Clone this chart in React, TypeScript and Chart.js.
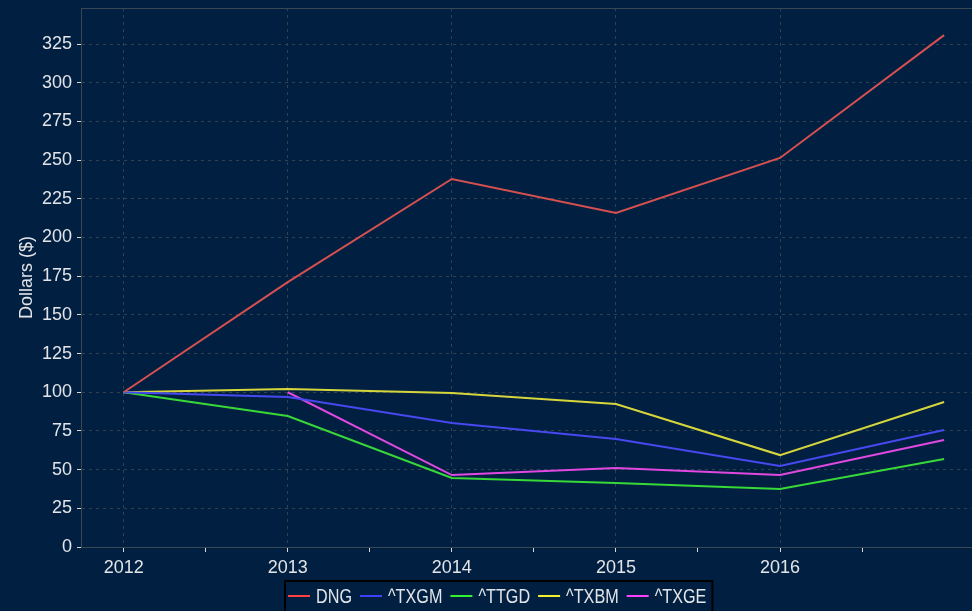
import React, { useEffect, useRef } from "react";
import { Chart, registerables } from "chart.js";

Chart.register(...registerables);

const years = [2012, 2013, 2014, 2015, 2016, 2017];
const dng = [100, 171.2, 237.8, 215.8, 251.4, 330.8];
const txgm = [100, 96.9, 80.1, 69.8, 52.3, 75.6];
const ttgd = [100, 84.6, 44.6, 41.4, 37.5, 56.9];
const txbm = [100, 102.1, 99.5, 92.4, 59.4, 93.7];
const txge = [null, 100, 46.5, 51.0, 46.5, 69.1];

const seriesNames = ["DNG", "^TXGM", "^TTGD", "^TXBM", "^TXGE"];
const seriesValues = [dng, txgm, ttgd, txbm, txge];
const seriesColors = ["#d65050", "#4848f0", "#38d838", "#d6d63c", "#e048e0"];
const legendColors = ["#ff4040", "#4040ff", "#30f030", "#f0f030", "#ff40ff"];

const yTickValues = [0, 25, 50, 75, 100, 125, 150, 175, 200, 225, 250, 275, 300, 325];
const xTickValues = [2012, 2012.5, 2013, 2013.5, 2014, 2014.5, 2015, 2015.5, 2016, 2016.5];

const BG = "#012041";
const FONT = "'Liberation Sans', Arial, sans-serif";
const GRID = "#33414f";
const TEXT = "#e2e4e8";

export default function App() {
  const ref = useRef<HTMLCanvasElement>(null);

  useEffect(() => {
    if (!ref.current) return;
    const bgPlugin = {
      id: "bg",
      beforeDraw(chart: any) {
        const c = chart.ctx;
        c.save();
        c.fillStyle = BG;
        c.fillRect(0, 0, chart.width, chart.height);
        c.restore();
      },
      afterDraw(chart: any) {
        const c = chart.ctx;
        const a = chart.chartArea;
        c.save();
        c.strokeStyle = "#3a4856";
        c.lineWidth = 1;
        c.strokeRect(a.left + 0.5, a.top + 0.5, a.right - a.left, a.bottom - a.top);
        // legend
        const sx = 0.81;
        c.font = "20px " + FONT;
        const widths = seriesNames.map((n) => c.measureText(n).width * sx);
        const lineW = 22, gap1 = 6, gap2 = 8, padL = 3, padR = 6;
        const total = widths.reduce((s, w) => s + lineW + gap1 + w, 0) + gap2 * (seriesNames.length - 1) + padL + padR;
        const cx = 499;
        const left = Math.round(cx - total / 2);
        const top = 581;
        c.fillStyle = BG;
        c.fillRect(left, top, total, 40);
        c.strokeStyle = "#000000";
        c.lineWidth = 2;
        c.strokeRect(left, top, total, 40);
        let x = left + padL;
        c.textBaseline = "alphabetic";
        c.textAlign = "left";
        seriesNames.forEach((n, i) => {
          c.strokeStyle = legendColors[i];
          c.lineWidth = 2;
          c.beginPath();
          c.moveTo(x, 596);
          c.lineTo(x + lineW, 596);
          c.stroke();
          x += lineW + gap1;
          c.save();
          c.translate(x, 603);
          c.scale(sx, 1);
          c.fillStyle = TEXT;
          c.fillText(n, 0, 0);
          c.restore();
          x += widths[i] + gap2;
        });
        c.restore();
      },
    };

    const chart = new Chart(ref.current, {
      type: "line",
      data: {
        datasets: seriesNames.map((name, i) => ({
          label: name,
          data: years.map((yr, j) => ({ x: yr, y: seriesValues[i][j] })),
          borderColor: seriesColors[i],
          backgroundColor: seriesColors[i],
          borderWidth: 2,
          pointRadius: 0,
          tension: 0,
          spanGaps: false,
        })),
      },
      options: {
        animation: false,
        responsive: false,
        devicePixelRatio: 1,
        layout: { padding: { top: 8, right: 0, bottom: 0, left: 0 } },
        plugins: { legend: { display: false }, tooltip: { enabled: false } },
        scales: {
          x: {
            type: "linear",
            min: 2011.74,
            max: 2017.17,
            afterBuildTicks(scale: any) {
              scale.ticks = xTickValues.map((v) => ({ value: v }));
            },
            afterFit(scale: any) {
              scale.height = 64;
              scale.paddingLeft = 0;
              scale.paddingRight = 0;
            },
            ticks: {
              autoSkip: false,
              maxRotation: 0,
              color: TEXT,
              font: { family: FONT, size: 18 },
              padding: 5,
              callback: (v: any) => (Number(v) % 1 === 0 ? String(v) : ""),
            },
            grid: {
              color: (ctx: any) => (ctx.tick && ctx.tick.value % 1 === 0 ? GRID : "rgba(0,0,0,0)"),
              tickColor: "#d8d8d8",
              tickLength: 5,
              drawOnChartArea: true,
            },
            border: { color: "#3a4856", dash: [3, 4] },
          },
          y: {
            min: 0,
            max: 348.3,
            afterBuildTicks(scale: any) {
              scale.ticks = yTickValues.map((v) => ({ value: v }));
            },
            afterFit(scale: any) {
              scale.width = 81;
              scale.paddingTop = 0;
              scale.paddingBottom = 0;
            },
            ticks: {
              color: TEXT,
              font: { family: FONT, size: 18 },
              padding: 5,
            },
            grid: {
              color: GRID,
              tickColor: "#d8d8d8",
              tickLength: 4,
            },
            border: { color: "#3a4856", dash: [3, 4] },
            title: {
              display: true,
              text: "Dollars ($)",
              color: TEXT,
              font: { family: FONT, size: 18 },
              padding: { top: 16, bottom: 0 },
            },
          },
        },
      },
      plugins: [bgPlugin],
    } as any);
    return () => chart.destroy();
  }, []);

  return (
    <div style={{ position: "fixed", left: 0, top: 0, width: 972, height: 611, background: BG }}>
      <canvas ref={ref} width={972} height={611} style={{ display: "block" }} />
    </div>
  );
}
